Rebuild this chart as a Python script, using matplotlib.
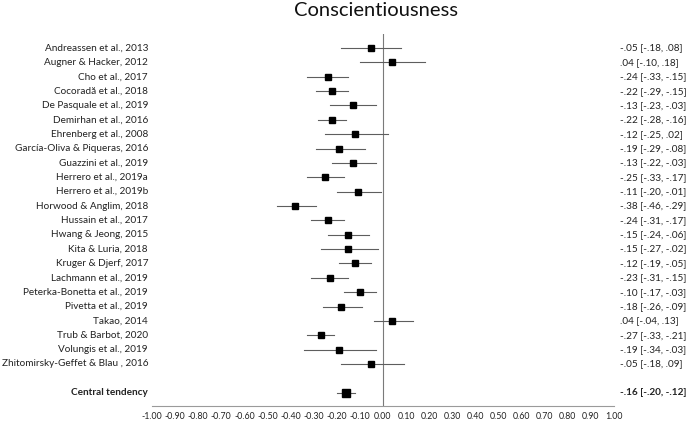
import matplotlib
matplotlib.use("Agg")
import matplotlib.pyplot as plt
from matplotlib.transforms import blended_transform_factory

plt.rcParams['font.family'] = ['Lato', 'DejaVu Sans']

# studies, effect sizes and 95% CIs
studies = ["Andreassen et al., 2013", "Augner & Hacker, 2012", "Cho et al., 2017",
           "Cocoradă et al., 2018", "De Pasquale et al., 2019", "Demirhan et al., 2016",
           "Ehrenberg et al., 2008", "García-Oliva & Piqueras, 2016", "Guazzini et al., 2019",
           "Herrero et al., 2019a", "Herrero et al., 2019b", "Horwood & Anglim, 2018",
           "Hussain et al., 2017", "Hwang & Jeong, 2015", "Kita & Luria, 2018",
           "Kruger & Djerf, 2017", "Lachmann et al., 2019", "Peterka-Bonetta et al., 2019",
           "Pivetta et al., 2019", "Takao, 2014", "Trub & Barbot, 2020",
           "Volungis et al., 2019", "Zhitomirsky-Geffet & Blau , 2016"]
r = [-.05, .04, -.24, -.22, -.13, -.22, -.12, -.19, -.13, -.25, -.11, -.38,
     -.24, -.15, -.15, -.12, -.23, -.10, -.18, .04, -.27, -.19, -.05]
lo = [-.18, -.10, -.33, -.29, -.23, -.28, -.25, -.29, -.22, -.33, -.20, -.46,
      -.31, -.24, -.27, -.19, -.31, -.17, -.26, -.04, -.33, -.34, -.18]
hi = [.08, .18, -.15, -.15, -.03, -.16, .02, -.08, -.03, -.17, -.01, -.29,
      -.17, -.06, -.02, -.05, -.15, -.03, -.09, .13, -.21, -.03, .09]

pooled_label = "Central tendency"
pooled_r, pooled_lo, pooled_hi = -.16, -.20, -.12

ticks = [round(-1 + 0.1 * i, 2) for i in range(21)]


def fmt(v):
    s = "%.2f" % v
    return s.replace("0.", ".", 1)


W, H = 687, 423
fig = plt.figure(figsize=(W / 100, H / 100), dpi=100)
ax = fig.add_axes([152 / W, 1 - 406 / H, (614 - 152) / W, (406 - 34) / H])

ys = list(range(len(studies)))
pooled_y = len(studies) + 1

bar_col = "#5e5e5e"
for y, m, a, b in zip(ys, r, lo, hi):
    ax.plot([a, b], [y, y], color=bar_col, lw=0.8, zorder=2)
    ax.plot(m, y, "s", color="black", ms=4, zorder=3)
ax.plot([pooled_lo, pooled_hi], [pooled_y, pooled_y], color=bar_col, lw=0.8, zorder=2)
ax.plot(pooled_r, pooled_y, "s", color="black", ms=5.5, zorder=3)

ax.axvline(0, color="#7a7a7a", lw=0.8, zorder=1)

ax.set_xlim(-1.0, 1.0)
ax.set_ylim(pooled_y + 0.93, -0.98)
ax.set_xticks(ticks)
ax.set_xticklabels(["%.2f" % t for t in ticks], fontsize=6.3, color="#222222")
ax.tick_params(axis="x", length=0, pad=4)
ax.set_yticks([])
for s in ["top", "right", "left"]:
    ax.spines[s].set_visible(False)
ax.spines["bottom"].set_color("#9a9a9a")
ax.spines["bottom"].set_linewidth(0.8)

# study labels on the left, estimate and CI on the right
tr = blended_transform_factory(fig.transFigure, ax.transData)
x_lab, x_val = 148 / W, 620 / W
for y, name, m, a, b in zip(ys, studies, r, lo, hi):
    ax.text(x_lab, y, name, transform=tr, ha="right", va="center",
            fontsize=7.2, color="#222222")
    ax.text(x_val, y, "%s [%s, %s]" % (fmt(m), fmt(a), fmt(b)), transform=tr,
            ha="left", va="center", fontsize=7.2, color="#222222")
ax.text(x_lab, pooled_y, pooled_label, transform=tr, ha="right", va="center",
        fontsize=7.2, fontweight="bold", color="#222222")
ax.text(x_val, pooled_y, "%s [%s, %s]" % (fmt(pooled_r), fmt(pooled_lo), fmt(pooled_hi)),
        transform=tr, ha="left", va="center", fontsize=7.2, fontweight="bold",
        color="#222222")

for t in ax.texts:
    t.set_clip_on(False)

fig.text(376 / W, 1 - 11 / H, "Conscientiousness", ha="center", va="center",
         fontsize=14.5, color="#111111")

fig.savefig("out.png", dpi=100)
